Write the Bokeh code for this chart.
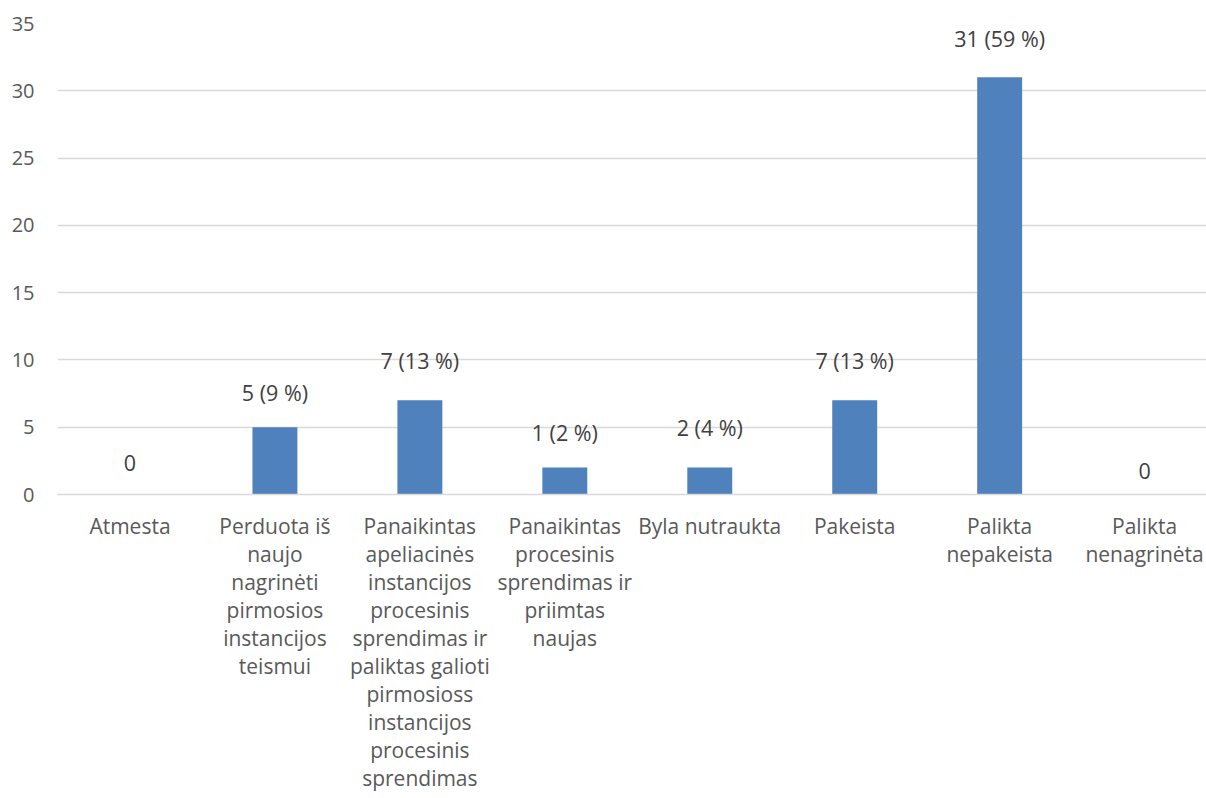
from bokeh.plotting import figure
from bokeh.models import Range1d, FixedTicker, ColumnDataSource
from bokeh.core.properties import value
from bokeh.embed import file_html
from bokeh.resources import INLINE

categories = [
    "Atmesta",
    "Perduota iš\nnaujo\nnagrinėti\npirmosios\ninstancijos\nteismui",
    "Panaikintas\napeliacinės\ninstancijos\nprocesinis\nsprendimas ir\npaliktas galioti\npirmosioss\ninstancijos\nprocesinis\nsprendimas",
    "Panaikintas\nprocesinis\nsprendimas ir\npriimtas\nnaujas",
    "Byla nutraukta",
    "Pakeista",
    "Palikta\nnepakeista",
    "Palikta\nnenagrinėta",
]
values = [0, 5, 7, 2, 2, 7, 31, 0]
labels = ["0", "5 (9 %)", "7 (13 %)", "1 (2 %)", "2 (4 %)", "7 (13 %)", "31 (59 %)", "0"]
y_ticks = [0, 5, 10, 15, 20, 25, 30, 35]

# style: pixel lift of each data label above its bar top
label_lift = [32, 35, 40, 35, 40, 40, 39, 24]

FONT = "Open Sans"
xs = list(range(len(categories)))

src = ColumnDataSource(dict(x=xs, top=values, label=labels,
                            yoff=[-o for o in label_lift]))

p = figure(width=1206, height=798, output_backend="svg", toolbar_location=None,
           x_range=Range1d(-0.5, 7.427), y_range=Range1d(0, 35),
           min_border_left=57, min_border_right=0, min_border_top=23,
           min_border_bottom=304)
p.outline_line_color = None
p.background_fill_color = "white"
p.border_fill_color = "white"

p.vbar(x="x", top="top", bottom=0, width=0.31, source=src,
       fill_color="#4f81bd", line_color=None)

p.text(x="x", y="top", text="label", source=src, y_offset="yoff",
       text_align="center", text_baseline="middle",
       text_font=value(FONT), text_font_size="21.5px", text_color="#404040")

# grid
p.xgrid.grid_line_color = None
p.ygrid.grid_line_color = "#d9d9d9"
p.ygrid.grid_line_width = 1.3
p.yaxis.ticker = FixedTicker(ticks=y_ticks)

# y axis
p.yaxis.axis_line_color = None
p.yaxis.major_tick_line_color = None
p.yaxis.minor_tick_line_color = None
p.yaxis.major_tick_out = 0
p.yaxis.minor_tick_out = 0
p.yaxis.major_label_standoff = 23
p.yaxis.major_label_text_font = FONT
p.yaxis.major_label_text_font_size = "20px"
p.yaxis.major_label_text_color = "#595959"

# x axis
p.xaxis.ticker = FixedTicker(ticks=xs)
p.xaxis.major_label_overrides = {i: c for i, c in zip(xs, categories)}
p.xaxis.axis_line_color = "#d9d9d9"
p.xaxis.axis_line_width = 1.3
p.xaxis.major_tick_line_color = None
p.xaxis.minor_tick_line_color = None
p.xaxis.major_tick_out = 0
p.xaxis.minor_tick_out = 0
p.xaxis.major_label_standoff = 17
p.xaxis.major_label_text_font = FONT
p.xaxis.major_label_text_font_size = "21px"
p.xaxis.major_label_text_color = "#595959"
p.xaxis.major_label_text_line_height = 1.0
p.xaxis.major_label_text_align = "center"

open("out.html", "w").write(file_html(p, INLINE))
